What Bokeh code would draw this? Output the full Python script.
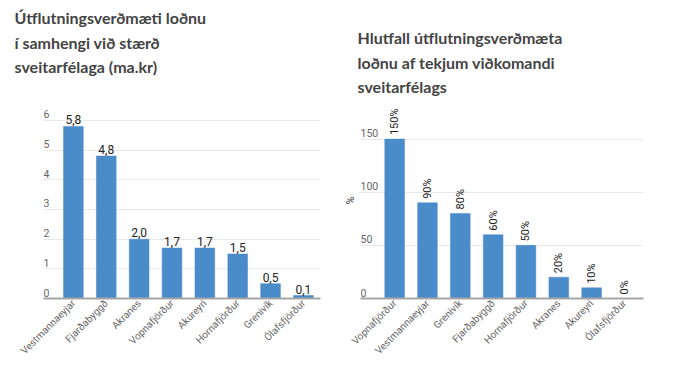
import math
from bokeh.plotting import figure
from bokeh.models import Range1d, FixedTicker, Title, ColumnDataSource, Spacer
from bokeh.layouts import row, column
from bokeh.core.properties import value
from bokeh.embed import file_html
from bokeh.resources import INLINE

# ---- data ----
left_title = "Útflutningsverðmæti loðnu\ní samhengi við stærð\nsveitarfélaga (ma.kr)"
left_cats = ["Vestmannaeyjar", "Fjarðabyggð", "Akranes", "Vopnafjörður",
             "Akureyri", "Hornafjörður", "Grenivík", "Ólafsfjörður"]
left_vals = [5.8, 4.8, 2.0, 1.7, 1.7, 1.5, 0.5, 0.1]
left_ticks = [0, 1, 2, 3, 4, 5, 6]

right_title = "Hlutfall útflutningsverðmæta\nloðnu af tekjum viðkomandi\nsveitarfélags"
right_cats = ["Vopnafjörður", "Vestmannaeyjar", "Grenivík", "Fjarðabyggð",
              "Hornafjörður", "Akranes", "Akureyri", "Ólafsfjörður"]
right_vals = [150, 90, 80, 60, 50, 20, 10, 0]
right_ticks = [0, 50, 100, 150]
right_axis_title = "%"

BAR = "#4a8bc9"
TITLE_FONT = "Lato"
FONT = "Roboto"


def make_fig(cats, vals, labels, ticks, title, width, height, xr, yr,
             bl, br, bb, title_offset, rotated, axis_title=None):
    p = figure(width=width, height=height, output_backend="svg",
               toolbar_location=None, x_range=Range1d(*xr), y_range=Range1d(*yr),
               min_border_left=bl, min_border_right=br, min_border_bottom=bb,
               min_border_top=0)
    p.outline_line_color = None
    p.background_fill_color = "white"
    t = Title(text=title, align="left", offset=title_offset,
              text_font=TITLE_FONT, text_font_size="16px", text_font_style="bold",
              text_color="#444444", text_line_height=1.3, standoff=12)
    p.add_layout(t, "above")

    xs = list(range(len(cats)))
    src = ColumnDataSource(dict(x=xs, top=vals, label=labels))
    p.vbar(x="x", top="top", width=0.6, source=src, fill_color=BAR,
           line_color=BAR, line_width=0.5)

    if rotated:
        p.text(x="x", y="top", text="label", source=src, angle=math.pi / 2,
               text_align="left", text_baseline="middle", y_offset=-4,
               text_font=value(FONT), text_font_size="11px", text_color="#222222")
    else:
        p.text(x="x", y="top", text="label", source=src,
               text_align="center", text_baseline="bottom", y_offset=-2,
               text_font=value(FONT), text_font_size="12px", text_color="#222222")

    # y tick labels drawn above the grid lines
    tsrc = ColumnDataSource(dict(x=[xr[0]] * len(ticks), y=ticks,
                                 t=[str(v) for v in ticks]))
    p.text(x="x", y="y", text="t", source=tsrc, text_align="left",
           text_baseline="bottom", y_offset=-2,
           text_font=value(FONT), text_font_size="10.5px", text_color="#666666")

    p.xaxis.ticker = FixedTicker(ticks=xs)
    p.xaxis.major_label_overrides = {i: c for i, c in zip(xs, cats)}
    p.xaxis.major_label_orientation = math.pi / 4
    p.xaxis.major_label_text_font = FONT
    p.xaxis.major_label_text_font_size = "10px"
    p.xaxis.major_label_text_color = "#666666"
    p.xaxis.major_tick_line_color = None
    p.xaxis.minor_tick_line_color = None
    p.xaxis.major_tick_out = 0
    p.xaxis.major_tick_in = 0
    p.xaxis.axis_line_color = "#a6a6a6"
    p.xaxis.axis_line_width = 2
    p.xaxis.major_label_standoff = 3

    if axis_title:
        p.yaxis.ticker = FixedTicker(ticks=[])
        p.yaxis.major_tick_line_color = None
        p.yaxis.minor_tick_line_color = None
        p.yaxis.major_tick_out = 0
        p.yaxis.axis_line_color = None
        p.yaxis.axis_label = axis_title
        p.yaxis.axis_label_text_font = FONT
        p.yaxis.axis_label_text_font_size = "11px"
        p.yaxis.axis_label_text_font_style = "normal"
        p.yaxis.axis_label_text_color = "#444444"
        p.yaxis.axis_label_standoff = 4
    else:
        p.yaxis.visible = False

    p.xgrid.grid_line_color = None
    p.ygrid.ticker = FixedTicker(ticks=ticks)
    p.ygrid.grid_line_color = "#e8e8e8"
    return p


left_labels = [f"{v:.1f}".replace(".", ",") for v in left_vals]
right_labels = [f"{v}%" for v in right_vals]

p1 = make_fig(left_cats, left_vals, left_labels, left_ticks, left_title,
              338, 368, (-0.91, 7.52), (0, 7.28), 43, 18, 70, -29, False)
p2 = make_fig(right_cats, right_vals, right_labels, right_ticks, right_title,
              345, 348, (-1.04, 7.58), (0, 184.4), 22, 40, 70, -3, True,
              axis_title=right_axis_title)

layout = row(p1, column(Spacer(height=20), p2))
open("out.html", "w").write(file_html(layout, INLINE))
